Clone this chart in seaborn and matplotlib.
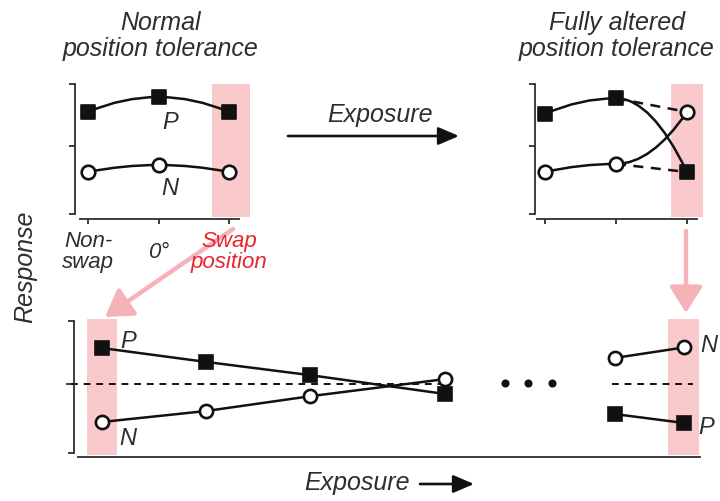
import numpy as np
import pandas as pd
import matplotlib
matplotlib.use("Agg")
import matplotlib.pyplot as plt
import seaborn as sns
from matplotlib.path import Path
from matplotlib.patches import PathPatch, Rectangle

# ---------------- data ----------------
positions = [0, 1, 2]
position_labels = ["Non-\nswap", "0°", "Swap\nposition"]

normal_P = [0.785, 0.90, 0.785]
normal_N = [0.323, 0.377, 0.323]

altered_P = [0.77, 0.89, 0.323]
altered_N = [0.323, 0.385, 0.785]
tail_positions = [1, 2]
original_P_tail = [0.89, 0.785]
original_N_tail = [0.385, 0.323]

exposure_early = [0, 1, 2, 3.3]
exposure_P_early = [0.795, 0.69, 0.59, 0.447]
exposure_N_early = [0.235, 0.318, 0.43, 0.56]
exposure_late = [4.93, 5.6]
exposure_P_late = [0.295, 0.227]
exposure_N_late = [0.72, 0.80]
ellipsis_x = [3.875, 4.096, 4.327]
ellipsis_y = [0.53, 0.53, 0.53]
baseline = 0.52

# ---------------- style ----------------
sns.set_theme(style="white")
plt.rcParams["font.family"] = ["Liberation Sans", "DejaVu Sans"]
INK = "#111111"
TXT = "#2e2e2e"
SPINE = "#2e2e2e"
PINK = "#f9c9cc"
ARROW_PINK = "#f5b2b8"
RED = "#e8262c"

W, H = 720, 502
fig = plt.figure(figsize=(7.2, 5.02), dpi=100)


def px_axes(l, t, w, h, **kw):
    return fig.add_axes([l / W, 1 - (t + h) / H, w / W, h / H], **kw)


def style_axes(ax, xlim, xbounds, left_off, bottom_off):
    ax.set_facecolor("none")
    ax.set_xlim(*xlim)
    ax.set_ylim(0, 1)
    ax.spines["top"].set_visible(False)
    ax.spines["right"].set_visible(False)
    for s in ["left", "bottom"]:
        ax.spines[s].set_color(SPINE)
        ax.spines[s].set_linewidth(1.3)
    ax.spines["left"].set_position(("outward", left_off))
    ax.spines["bottom"].set_position(("outward", bottom_off))
    ax.spines["left"].set_bounds(0, 1)
    ax.spines["bottom"].set_bounds(*xbounds)
    ax.set_yticks([0, baseline, 1])
    ax.tick_params(axis="y", direction="out", length=4.5, width=1.3,
                   color=SPINE, labelleft=False, left=True)
    ax.set_xlabel("")
    ax.set_ylabel("")


def curve(ax, xs, ys):
    verts = [(xs[0], ys[0])]
    codes = [Path.MOVETO]
    for i in range(len(xs) - 1):
        cx = (xs[i] + xs[i + 1]) / 2
        verts += [(cx, ys[1]), (xs[i + 1], ys[i + 1])]
        codes += [Path.CURVE3, Path.CURVE3]
    ax.add_patch(PathPatch(Path(verts, codes), fill=False, lw=1.8,
                           ec=INK, zorder=2))


def markers(ax, xs, ys, kind):
    if kind == "P":
        sns.scatterplot(x=xs, y=ys, marker="s", s=115, color=INK,
                        edgecolor=INK, linewidth=1.2, ax=ax, zorder=3,
                        clip_on=False)
    else:
        sns.scatterplot(x=xs, y=ys, marker="o", s=95, color="white",
                        edgecolor=INK, linewidth=1.9, ax=ax, zorder=3,
                        clip_on=False)


# ---------------- overlay (annotations) ----------------
ov = px_axes(0, 0, W, H, zorder=-1)
ov.set_xlim(0, W)
ov.set_ylim(H, 0)
ov.axis("off")

tkw = dict(style="italic", color=TXT, ha="center", va="center")
ov.text(160, 36, "Normal\nposition tolerance", fontsize=18, linespacing=1.1, **tkw)
ov.text(617, 36, "Fully altered\nposition tolerance", fontsize=18, linespacing=1.1, **tkw)
ov.text(380, 115, "Exposure", fontsize=18, **tkw)
ov.annotate("", xy=(459, 137), xytext=(288, 137),
            arrowprops=dict(arrowstyle="-|>,head_length=0.7,head_width=0.3",
                            color=INK, lw=1.9, mutation_scale=18,
                            shrinkA=0, shrinkB=0))
ov.text(357, 483, "Exposure", fontsize=18, **tkw)
ov.annotate("", xy=(474, 485), xytext=(420, 485),
            arrowprops=dict(arrowstyle="-|>,head_length=0.7,head_width=0.3",
                            color=INK, lw=1.9, mutation_scale=18,
                            shrinkA=0, shrinkB=0))
ov.text(25, 267, "Response", fontsize=18, rotation=90, **tkw)
ov.annotate("", xy=(105, 318), xytext=(233, 230),
            arrowprops=dict(arrowstyle="-|>,head_length=0.8,head_width=0.5",
                            color=ARROW_PINK, lw=3.2, mutation_scale=20,
                            shrinkA=0, shrinkB=0))
ov.annotate("", xy=(686, 314), xytext=(686, 232),
            arrowprops=dict(arrowstyle="-|>,head_length=0.8,head_width=0.5",
                            color=ARROW_PINK, lw=3.2, mutation_scale=20,
                            shrinkA=0, shrinkB=0))

# ---------------- panel 1: normal ----------------
u1 = 70.5
ax1 = px_axes(80, 85, 163, 130)
style_axes(ax1, (-8 / u1, 155 / u1), (-0.113, 2.14), 3.6, 3.6)
ax1.add_patch(Rectangle((1.76, -0.02), 2.3 - 1.76, 1.02,
                        transform=ax1.get_xaxis_transform(), color=PINK,
                        lw=0, zorder=0, clip_on=False))
curve(ax1, positions, normal_P)
curve(ax1, positions, normal_N)
markers(ax1, positions, normal_P, "P")
markers(ax1, positions, normal_N, "N")
ax1.set_xticks(positions)
ax1.set_xticklabels(position_labels, va="center", linespacing=1.0,
                    fontstyle="italic", fontsize=16, color=TXT)
ax1.get_xticklabels()[2].set_color(RED)
ax1.tick_params(axis="x", direction="out", length=3.6, width=1.3,
                color=SPINE, pad=19.5, bottom=True)
ax1.text(1.16, 0.71, "P", fontsize=17, style="italic", color=TXT,
         ha="center", va="center")
ax1.text(1.16, 0.205, "N", fontsize=17, style="italic", color=TXT,
         ha="center", va="center")

# ---------------- panel 2: altered ----------------
u2 = 71.0
ax2 = px_axes(537, 85, 166, 130)
style_axes(ax2, (-8 / u2, 158 / u2), (-0.113, 2.14), 1.5, 3.6)
ax2.add_patch(Rectangle((1.775, -0.02), 2.225 - 1.775, 1.02,
                        transform=ax2.get_xaxis_transform(), color=PINK,
                        lw=0, zorder=0, clip_on=False))
sns.lineplot(x=tail_positions, y=original_P_tail, color=INK, lw=1.8,
             linestyle=(0, (4, 3)), ax=ax2, zorder=2)
sns.lineplot(x=tail_positions, y=original_N_tail, color=INK, lw=1.8,
             linestyle=(0, (4, 3)), ax=ax2, zorder=2)
curve(ax2, positions, altered_P)
curve(ax2, positions, altered_N)
markers(ax2, positions, altered_P, "P")
markers(ax2, positions, altered_N, "N")
ax2.set_xticks(positions)
ax2.tick_params(axis="x", direction="out", length=3.6, width=1.3,
                color=SPINE, labelbottom=False, bottom=True)
ax2.set_xlim(-8 / u2, 158 / u2)
ax2.set_ylim(0, 1)

# ---------------- bottom panel: over exposure ----------------
ub = 104.0
axb = px_axes(80, 322, 620, 132)
style_axes(axb, (-22 / ub, 598 / ub), (-0.23, 5.75), 4.3, 2.9)
axb.set_xticks([])
for x0, x1 in [(-0.144, 0.144), (5.44, 5.74)]:
    axb.add_patch(Rectangle((x0, -0.015), x1 - x0, 1.03,
                            transform=axb.get_xaxis_transform(), color=PINK,
                            lw=0, zorder=0, clip_on=False))
axb.yaxis.get_major_ticks()[1].tick1line.set_markersize(6)
sns.lineplot(x=[-0.3, 3.35], y=[baseline, baseline], color=INK, lw=1.4,
             linestyle=(0, (3.5, 3)), ax=axb, zorder=1, clip_on=False)
sns.lineplot(x=[4.9, 5.68], y=[baseline, baseline], color=INK, lw=1.4,
             linestyle=(0, (3.5, 3)), ax=axb, zorder=1)
sq = dict(marker="s", markersize=10.3, markerfacecolor=INK, markeredgecolor=INK,
          markeredgewidth=1.2, color=INK, lw=1.8)
ci = dict(marker="o", markersize=9.5, markerfacecolor="white",
          markeredgecolor=INK, markeredgewidth=1.9, color=INK, lw=1.8)
sns.lineplot(x=exposure_early, y=exposure_P_early, ax=axb, zorder=3, **sq)
sns.lineplot(x=exposure_early, y=exposure_N_early, ax=axb, zorder=3, **ci)
sns.lineplot(x=exposure_late, y=exposure_P_late, ax=axb, zorder=3, **sq)
sns.lineplot(x=exposure_late, y=exposure_N_late, ax=axb, zorder=3, **ci)
sns.scatterplot(x=ellipsis_x, y=ellipsis_y, s=34, color=INK, lw=0,
                ax=axb, zorder=3)
axb.set_xlim(-22 / ub, 598 / ub)
axb.set_ylim(0, 1)
for (x, y, s) in [(0.25, 0.85, "P"), (0.25, 0.12, "N"),
                  (5.83, 0.82, "N"), (5.81, 0.20, "P")]:
    axb.text(x, y, s, fontsize=17, style="italic", color=TXT,
             ha="center", va="center", clip_on=False)
for a in (ax1, ax2, axb):
    a.set_xlabel("")
    a.set_ylabel("")
    leg = a.get_legend()
    if leg is not None:
        leg.remove()

fig.savefig("out.png", dpi=100)
